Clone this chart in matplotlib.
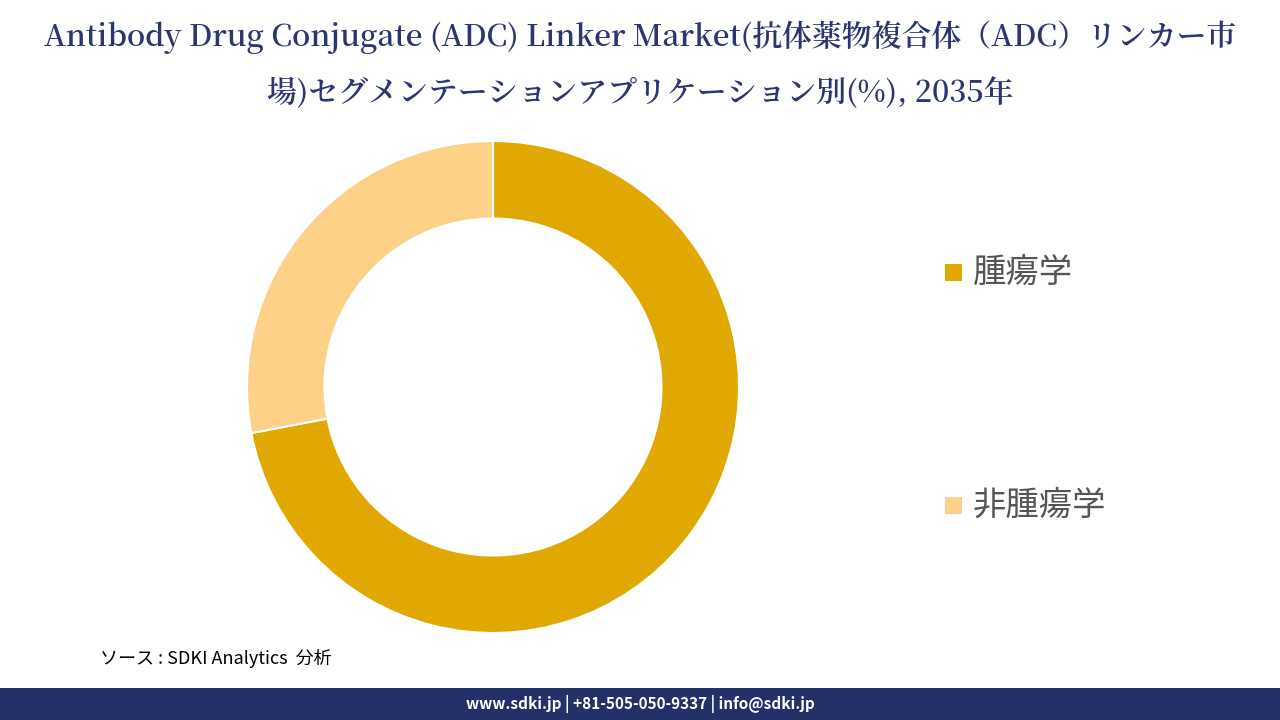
import matplotlib
matplotlib.use("Agg")
import matplotlib.pyplot as plt
from matplotlib.patches import Rectangle

labels = ["腫瘍学", "非腫瘍学"]
values = [72, 28]
colors = ["#E0A800", "#FDD187"]

plt.rcParams['font.family'] = ['Noto Sans CJK JP', 'DejaVu Sans']
fig = plt.figure(figsize=(12.8, 7.2), dpi=100)

ax = fig.add_axes([(493-246)/1280, 1 - (387+246)/720, 492/1280, 492/720])
ax.pie(values, colors=colors, startangle=90, counterclock=False, radius=1,
       wedgeprops=dict(width=0.315, edgecolor="white", linewidth=1.5))
ax.set_xlim(-1, 1); ax.set_ylim(-1, 1)
ax.set_aspect('equal')

title_font = ['Noto Serif CJK JP', 'Liberation Serif', 'Noto Sans CJK JP']
fig.text(0.5, 1 - 37/720, "Antibody Drug Conjugate (ADC) Linker Market(抗体薬物複合体（ADC）リンカー市",
         ha='center', va='center', fontsize=21.5, color='#2B3570', family=title_font, fontweight='semibold')
fig.text(0.5, 1 - 94/720, "場)セグメンテーションアプリケーション別(%), 2035年",
         ha='center', va='center', fontsize=21.5, color='#2B3570', family=title_font, fontweight='semibold')

for i, (lab, c) in enumerate(zip(labels, colors)):
    y = 1 - (272 + i*233)/720
    fig.patches.append(Rectangle((945/1280, y - 9/720), 17/1280, 17/720, transform=fig.transFigure,
                                 facecolor=c, edgecolor='none'))
    fig.text(973/1280, y, lab, va='center', ha='left', fontsize=24, color='#555555')

fig.text(100/1280, 1 - 658/720, "ソース : SDKI Analytics  分析", fontsize=13, style='italic',
         va='center', color='black')

fig.patches.append(Rectangle((0, 0), 1, 32/720, transform=fig.transFigure,
                             facecolor='#243068', edgecolor='none'))
fig.text(0.5, 16/720, "www.sdki.jp | +81-505-050-9337 | info@sdki.jp", ha='center', va='center',
         color='white', fontsize=11, fontweight='bold')

fig.savefig("out.png", dpi=100)
